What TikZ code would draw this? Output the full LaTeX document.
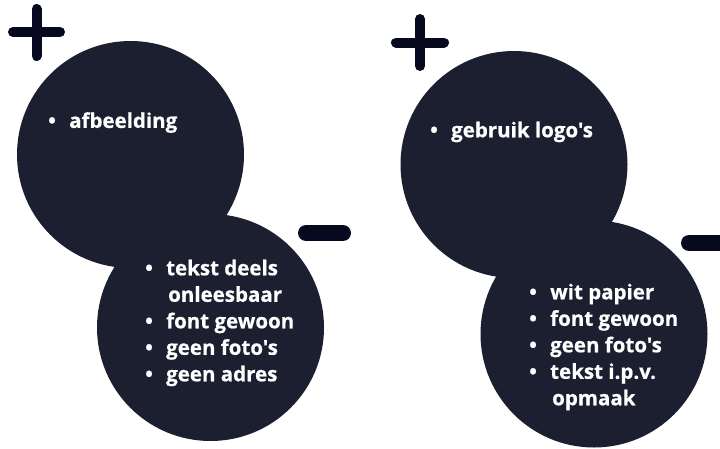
\documentclass[tikz,border=0pt]{standalone}
\usepackage{fontspec}
\newfontfamily\osans{Open Sans}[BoldFeatures={FakeBold=0.6}]
\definecolor{circ}{HTML}{1B1F30}
\definecolor{mark}{HTML}{070A1E}
\tikzset{
  bubble/.style={circle, fill=circ, minimum size=227pt, inner sep=0pt},
  signline/.style={draw=mark, line width=10pt, line cap=round},
  minusline/.style={draw=mark, line width=16pt, line cap=round},
  listtext/.style={text=white, font=\osans\fontsize{20.5}{26.5}\selectfont\bfseries, align=left, anchor=north west, inner sep=0pt}
}
\newcommand{\bul}{\makebox[21pt][l]{•}}
\newcommand{\cont}{\hspace*{23pt}}
\begin{document}
\begin{tikzpicture}[x=1pt,y=-1pt]
\useasboundingbox (0,0) rectangle (720,448);
\clip (0,0) rectangle (720,448);
% left pair
\node[bubble] (lt) at (130.5,154.5) {};
\node[bubble] (lb) at (210.5,327.5) {};
% right pair
\node[bubble] (rt) at (514,164.5) {};
\node[bubble] (rb) at (594,334) {};
% plus signs
\coordinate (p1t) at (36.5,9);
\coordinate (p1b) at (36.5,56);
\coordinate (p1l) at (13,32);
\coordinate (p1r) at (60,32);
\draw[signline] (p1t) -- (p1b);
\draw[signline] (p1l) -- (p1r);
\coordinate (p2t) at (420,19);
\coordinate (p2b) at (420,66);
\coordinate (p2l) at (396,42.5);
\coordinate (p2r) at (444,42.5);
\draw[signline] (p2t) -- (p2b);
\draw[signline] (p2l) -- (p2r);
% minus signs
\coordinate (m1l) at (306,233);
\coordinate (m1r) at (343,233);
\draw[minusline] (m1l) -- (m1r);
\coordinate (m2l) at (689,243);
\coordinate (m2r) at (740,243);
\draw[minusline] (m2l) -- (m2r);
% texts
\node[listtext] (t1) at (48,112) {\bul afbeelding};
\node[listtext] (t2) at (145,259.5) {\bul tekst deels\\\cont onleesbaar\\\bul font gewoon\\\bul geen foto's\\\bul geen adres};
\node[listtext] (t3) at (430,121.5) {\bul gebruik logo's};
\node[listtext] (t4) at (529,283.5) {\bul wit papier\\\bul font gewoon\\\bul geen foto's\\\bul tekst i.p.v.\\\cont opmaak};
\end{tikzpicture}
\end{document}
